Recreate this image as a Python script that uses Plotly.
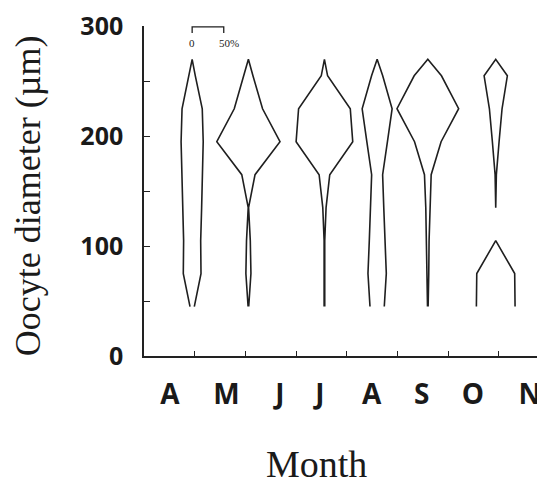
import plotly.graph_objects as go

# oocyte diameter classes (µm); the top class is the closing tip of every kite
diameter = [45, 75, 105, 135, 165, 195, 225, 255, 270]

# percentage of oocytes per diameter class for each sample
apr = [3.4, 14, 13.5, 15, 16.6, 17.5, 16, 5, 0]
may = [0.5, 4, 3, 0.3, 10.5, 50, 22.4, 7.2, 0]
jul = [0.5, 0.5, 0.5, 2.6, 8.4, 44.8, 40.9, 5, 0]
aug = [11.3, 14.5, 12.4, 10.5, 8.7, 16.3, 23.7, 8.8, 0]
sep = [0.5, 1.5, 2, 3.2, 5.3, 21, 48.8, 21.6, 0]
octo = [30.6, 30, 0, 0, 1, 5.3, 10, 18.4, 0]

samples = [apr, may, jul, aug, sep, octo]
sample_x = [0.95, 2.06, 3.56, 4.60, 5.60, 6.94]

months = ["A", "M", "J", "J", "A", "S", "O", "N"]
month_pos = [0.513, 1.627, 2.682, 3.471, 4.491, 5.477, 6.489, 7.613]

PCT = 0.01247  # x units per percent (half width of the kite)
LINE = dict(color="#1f1f1f", width=1.6)


def segments(vals):
    """split a kite where two neighbouring classes are empty"""
    segs, cur = [], [0]
    for i in range(1, len(vals)):
        if vals[i] == 0 and vals[i - 1] == 0:
            segs.append(cur)
            cur = [i]
        else:
            cur.append(i)
    segs.append(cur)
    return segs


fig = go.Figure()

for cx, vals in zip(sample_x, samples):
    for seg in segments(vals):
        xs = [cx - vals[i] * PCT for i in seg] + [cx + vals[i] * PCT for i in reversed(seg)]
        ys = [diameter[i] for i in seg] + [diameter[i] for i in reversed(seg)]
        fig.add_trace(go.Scatter(x=xs, y=ys, mode="lines", line=LINE,
                                 hoverinfo="skip", showlegend=False, cliponaxis=False))

# scale bar 0 - 50%
x0 = sample_x[0]
x1 = x0 + 50 * PCT
fig.add_trace(go.Scatter(x=[x0, x0, x1, x1], y=[294, 299.5, 299.5, 294], mode="lines",
                         line=dict(color="#1f1f1f", width=1.3), hoverinfo="skip",
                         showlegend=False, cliponaxis=False))
fig.add_annotation(x=x0, y=285, text="0", showarrow=False, xanchor="center",
                   font=dict(family="Liberation Serif", size=11, color="#222"))
fig.add_annotation(x=x1, y=285, text="50%", showarrow=False, xanchor="center", xshift=5,
                   font=dict(family="Liberation Serif", size=11, color="#222"))

fig.add_annotation(xref="paper", yref="paper", x=0.422, y=-0.328, text="Month",
                   showarrow=False, xanchor="center", yanchor="middle",
                   font=dict(family="Liberation Serif", size=38, color="#1a1a1a"))
fig.add_annotation(xref="paper", yref="paper", x=-0.284, y=0.487,
                   text="Oocyte diameter (µm)", textangle=-90,
                   showarrow=False, xanchor="center", yanchor="middle",
                   font=dict(family="Liberation Serif", size=36, color="#1a1a1a"))

fig.update_xaxes(
    range=[0, 8.07],
    showline=True, linecolor="#222", linewidth=1.5,
    showgrid=False, zeroline=False,
    tickmode="array", tickvals=month_pos, ticktext=months,
    ticks="", ticklabelstandoff=13,
    tickfont=dict(family="Open Sans", size=28, weight="bold", color="#1a1a1a"),
    minor=dict(tickmode="array", tickvals=[1, 2, 3, 4, 5, 6, 7],
               ticks="inside", ticklen=5, tickwidth=1.3, tickcolor="#222"),
)
fig.update_yaxes(
    range=[0, 300.3],
    showline=True, linecolor="#222", linewidth=1.5,
    showgrid=False, zeroline=False,
    tickmode="array", tickvals=[0, 100, 200, 300],
    ticks="inside", ticklen=6, tickwidth=1.3, tickcolor="#222",
    ticklabelstandoff=14, ticklabeloverflow="allow",
    tickfont=dict(family="Open Sans", size=25, weight="bold", color="#1a1a1a"),
    minor=dict(tickmode="array", tickvals=[50, 150, 250],
               ticks="inside", ticklen=6, tickwidth=1.3, tickcolor="#222"),
)

fig.update_layout(
    width=545, height=485,
    margin=dict(l=136, r=0, t=14.5, b=136.5),
    paper_bgcolor="white", plot_bgcolor="white",
    showlegend=False,
)

fig.write_html("out.html")
